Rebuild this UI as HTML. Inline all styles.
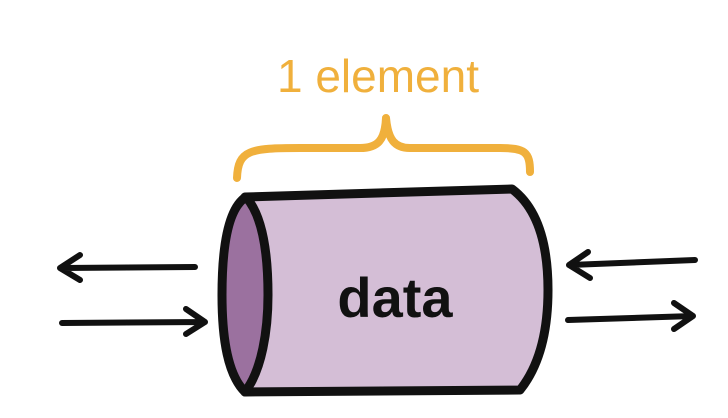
<!DOCTYPE html>
<html><head><style>body{margin:0;background:#fff}svg{display:block}</style></head><body>
<svg width="728" height="418" viewBox="0 0 728 418" xmlns="http://www.w3.org/2000/svg">
<g fill="none" stroke-linecap="round" stroke-linejoin="round">
<path d="M245 197 L512 189 C540 210 548 250 548 290 C548 330 540 365 520 390 L245 392 Z" fill="#d4bed6" stroke="#111" stroke-width="9"/>
<path d="M246 197 C225 210 222 260 222 295 C222 340 228 375 245 392 C262 370 268 330 268 295 C268 250 262 215 246 197 Z" fill="#9b719f" stroke="#111" stroke-width="9"/>
<path d="M237 178 C238 150 250 148 300 148 L360 148 C378 148 385 140 386 118 C388 140 395 148 410 148 L500 148 C525 148 530 152 530 172" stroke="#f0b03c" stroke-width="8"/>
<g stroke="#111" stroke-width="6">
<path d="M195 267 L62 268 M80 255 L60 268 L80 280"/>
<path d="M62 323 L205 322 M186 309 L205 322 L186 334"/>
<path d="M695 260 L570 265 M588 252 L569 265 L590 278"/>
<path d="M568 320 L693 316 M674 303 L693 316 L674 329"/>
</g>
</g>
<text x="395" y="317" text-anchor="middle" font-family="Liberation Sans, sans-serif" font-weight="bold" font-size="56" fill="#111">data</text>
<text x="378" y="92" text-anchor="middle" font-family="Liberation Sans, sans-serif" font-size="46" fill="#f0b03c">1 element</text>
</svg>
</body></html>
